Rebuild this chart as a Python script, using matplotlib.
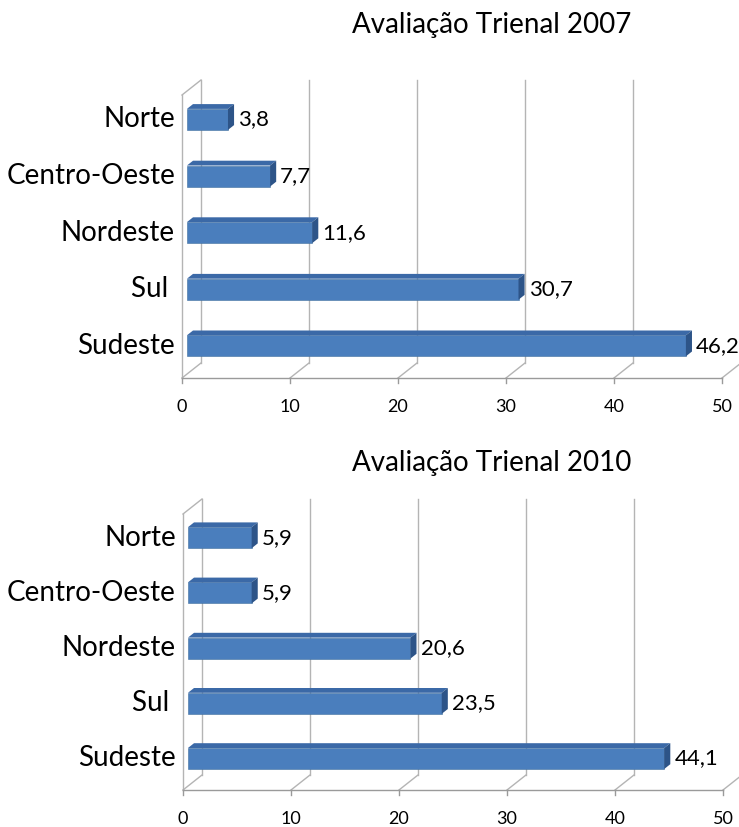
import matplotlib
matplotlib.use('Agg')
from matplotlib import pyplot as plt
from matplotlib.patches import Polygon

plt.rcParams['font.family'] = ['Lato', 'DejaVu Sans']

# dados (de baixo para cima, como no Excel)
regioes = ['Sudeste', 'Sul ', 'Nordeste', 'Centro-Oeste', 'Norte']
valores_2007 = [46.2, 30.7, 11.6, 7.7, 3.8]
valores_2010 = [44.1, 23.5, 20.6, 5.9, 5.9]
ticks_x = [0, 10, 20, 30, 40, 50]
titulos = ['Avaliação Trienal 2007', 'Avaliação Trienal 2010']

W, H = 739, 827
cinza_grade = '#b4b4b4'
cinza_eixo = '#9a9a9a'
azul_frente = '#4a7ebd'
azul_topo = '#3b69a7'
azul_lado = '#2d5488'

fig = plt.figure(figsize=(W / 100, H / 100), dpi=100)


def painel(x0, chao, topo, valores, titulo, base_titulo):
    ax = fig.add_axes([x0 / W, 1 - chao / H, 540 / W, (chao - topo) / H])
    ax.set_xlim(0, 50)
    ax.set_ylim(-0.5, 4.5)
    ax.axis('off')
    px_x = 540 / 50
    px_y = (chao - topo) / 5
    dx = 19 / px_x          # profundidade do "3D"
    dy = 15 / px_y

    # parede do fundo e chao
    for t in ticks_x:
        ax.plot([t + dx, t + dx], [-0.5 + dy, 4.5 + dy], color=cinza_grade,
                lw=1, clip_on=False, zorder=1)
        ax.plot([t, t + dx], [-0.5, -0.5 + dy], color=cinza_grade,
                lw=1, clip_on=False, zorder=1)
        ax.plot([t, t], [-0.5, -0.5 - 5 / px_y], color=cinza_eixo,
                lw=1, clip_on=False, zorder=2)
        ax.text(t, -0.5 - 29 / px_y, str(t), ha='center', va='center',
                fontsize=13)
    # parede lateral
    ax.plot([0, 0], [-0.5, 4.5], color=cinza_grade, lw=1, clip_on=False, zorder=1)
    ax.plot([0, dx], [4.5, 4.5 + dy], color=cinza_grade, lw=1, clip_on=False, zorder=1)
    # eixo da frente
    ax.plot([0, 50], [-0.5, -0.5], color=cinza_eixo, lw=1, clip_on=False, zorder=2)

    # barras
    f0, f1 = 0.26, 0.58
    h = 21 / px_y
    ys = [i + f0 * dy for i in range(len(valores))]
    ax.barh(ys, valores, height=h, left=f0 * dx, color=azul_frente,
            edgecolor='#41709f', lw=0.4, zorder=3)
    for y, v in zip(ys, valores):
        ya, yb = y + h / 2, y - h / 2
        ddx, ddy = (f1 - f0) * dx, (f1 - f0) * dy
        xa = f0 * dx
        xb = v + f0 * dx
        ax.add_patch(Polygon([(xa, ya), (xb, ya), (xb + ddx, ya + ddy),
                              (xa + ddx, ya + ddy)], closed=True,
                             facecolor=azul_topo, edgecolor='none', zorder=3))
        ax.add_patch(Polygon([(xb, yb), (xb, ya), (xb + ddx, ya + ddy),
                              (xb + ddx, yb + ddy)], closed=True,
                             facecolor=azul_lado, edgecolor='none', zorder=3))
        ax.text(xb + ddx + 4 / px_x, y, f'{v:.1f}'.replace('.', ','),
                ha='left', va='center', fontsize=16, zorder=4)

    for y, nome in zip(ys, regioes):
        ax.text(-7 / px_x, y, nome, ha='right', va='center', fontsize=20)

    fig.text(492 / W, 1 - base_titulo / H, titulo, ha='center',
             va='baseline', fontsize=20)
    return ax


painel(182, 378, 95, valores_2007, titulos[0], 33)
painel(183, 790, 514, valores_2010, titulos[1], 471)

fig.savefig('out.png', dpi=100)
